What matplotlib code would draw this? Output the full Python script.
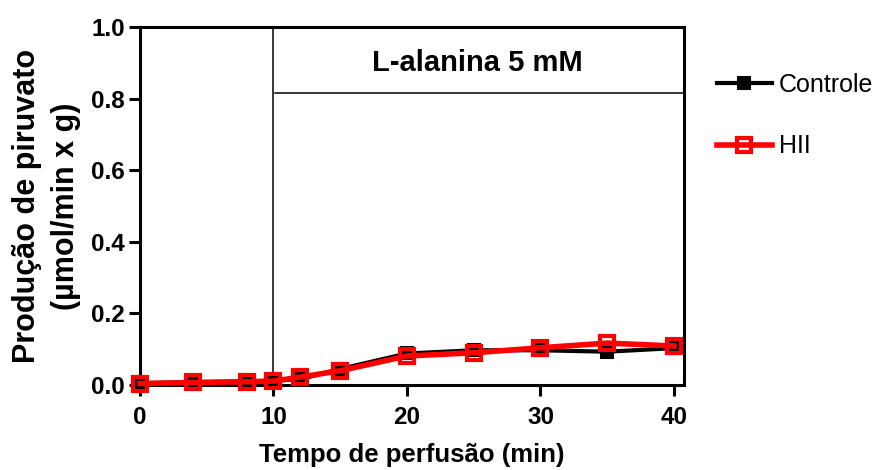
import matplotlib
matplotlib.use("Agg")
import matplotlib.pyplot as plt

plt.rcParams['font.family'] = ['Liberation Sans', 'DejaVu Sans']

time_min = [0, 4, 8, 10, 12, 15, 20, 25, 30, 35, 40]
controle = [0.005, 0.008, 0.010, 0.012, 0.016, 0.045, 0.088, 0.097, 0.097, 0.093, 0.103]
hii = [0.004, 0.007, 0.009, 0.011, 0.022, 0.040, 0.081, 0.090, 0.104, 0.117, 0.109]
series_labels = ["Controle", "HII"]
x_ticks = [0, 10, 20, 30, 40]
y_ticks = [0.0, 0.2, 0.4, 0.6, 0.8, 1.0]
annotation = "L-alanina 5 mM"
start_time = 10
bracket_y = 0.815
x_max = 40.75

fig = plt.figure(figsize=(8.77, 4.70), dpi=100)
ax = fig.add_axes([140/877, 85/470, 544/877, 358/470])

ax.plot(time_min, controle, color='black', lw=3, marker='s', ms=8.5,
        mfc='black', mec='black', mew=1.5, clip_on=False, zorder=3,
        label=series_labels[0])
ax.plot(time_min, hii, color='#ff0000', lw=4, marker='s', ms=9.5,
        mfc='none', mec='#ff0000', mew=3, clip_on=False, zorder=4,
        label=series_labels[1])

ax.axvline(start_time, color='black', lw=1.1, zorder=1)
ax.plot([start_time + 0.1, x_max], [bracket_y, bracket_y], color='black', lw=1.1,
        zorder=1)
ax.text(25.3, 0.90, annotation, ha='center', va='center', fontsize=21,
        fontweight='bold')

ax.set_xlim(0, x_max)
ax.set_ylim(0, 1.0)
ax.set_xticks(x_ticks)
ax.set_yticks(y_ticks)
ax.set_yticklabels([f"{v:.1f}" for v in y_ticks])
for lab in ax.get_xticklabels() + ax.get_yticklabels():
    lab.set_fontweight('bold')
    lab.set_fontsize(17.5)
ax.tick_params(axis='both', direction='out', length=8, width=2.2)
ax.tick_params(axis='x', pad=7)
ax.tick_params(axis='y', pad=3)

for s in ax.spines.values():
    s.set_linewidth(2.2)

ax.set_xlabel("Tempo de perfusão (min)", fontsize=18.5, fontweight='bold',
              labelpad=10)
ax.set_ylabel("Produção de piruvato\n(µmol/min x g)", fontsize=22,
              fontweight='bold', labelpad=7, linespacing=1.4)

leg = ax.legend(loc='upper left', bbox_to_anchor=(1.06, 0.872), frameon=False,
                fontsize=18, handlelength=2.2, handletextpad=0.3,
                labelspacing=1.5, borderpad=0, borderaxespad=0)

fig.savefig("out.png", dpi=100)
